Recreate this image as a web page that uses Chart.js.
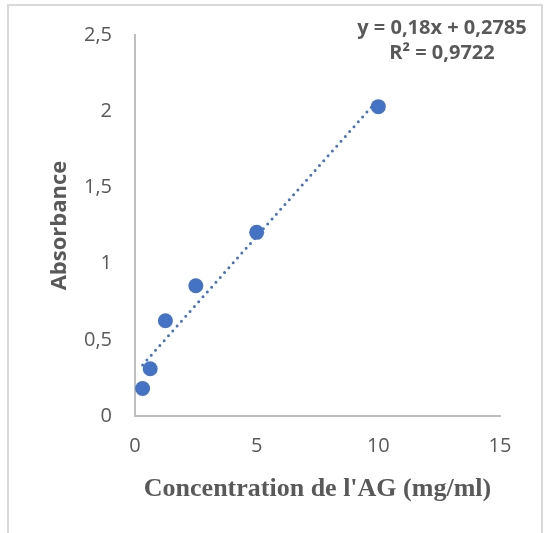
<!DOCTYPE html>
<html>
<head>
<meta charset="utf-8">
<script src="https://cdn.jsdelivr.net/npm/chart.js@4/dist/chart.umd.min.js"></script>
<style>
  body { margin: 0; background: #fff; }
  #wrap { position: relative; width: 548px; height: 533px; }
</style>
</head>
<body>
<div id="wrap"><canvas id="courbe" width="548" height="533"></canvas></div>
<script>
const concentrations = [0.3125, 0.625, 1.25, 2.5, 5, 10];
const absorbances = [0.18, 0.31, 0.625, 0.855, 1.205, 2.03];

// Courbe de tendance (extrémités)
const tendanceX = [0.3125, 10];
const tendanceY = [0.335, 2.0785];

const equation = ['y = 0,18x + 0,2785', 'R² = 0,9722'];

const gris = '#595959';
const bleu = '#4472c4';

// cadre + équation
const decor = {
    id: 'decor',
    beforeDraw(chart) {
        const ctx = chart.ctx;
        ctx.save();
        ctx.fillStyle = '#fff';
        ctx.fillRect(0, 0, chart.width, chart.height);
        ctx.strokeStyle = '#d9d9d9';
        ctx.lineWidth = 2;
        ctx.strokeRect(8, 5, 534, 540);
        ctx.restore();
    },
    afterDraw(chart) {
        const ctx = chart.ctx;
        ctx.save();
        ctx.fillStyle = gris;
        ctx.font = 'bold 20px "Open Sans"';
        ctx.textAlign = 'center';
        ctx.textBaseline = 'middle';
        ctx.fillText(equation[0], 442, 28);
        ctx.fillText(equation[1], 442, 53);
        ctx.restore();
    }
};

const ctx = document.getElementById('courbe').getContext('2d');
new Chart(ctx, {
    type: 'scatter',
    data: {
        datasets: [{
            label: 'Absorbance',
            data: concentrations.map((x, i) => ({ x: x, y: absorbances[i] })),
            backgroundColor: bleu,
            borderWidth: 0,
            pointRadius: 7.5,
            order: 1
        }, {
            type: 'line',
            label: 'Tendance',
            data: tendanceX.map((x, i) => ({ x: x, y: tendanceY[i] })),
            borderColor: bleu,
            borderWidth: 3,
            borderDash: [0, 6.5],
            borderCapStyle: 'round',
            pointRadius: 0,
            fill: false,
            order: 0
        }]
    },
    options: {
        responsive: false,
        animation: false,
        layout: { padding: { left: 0, right: 48, top: 35, bottom: 0 } },
        plugins: {
            legend: { display: false },
            tooltip: { enabled: false }
        },
        scales: {
            x: {
                type: 'linear',
                min: 0,
                max: 15,
                grid: { display: false, drawTicks: false },
                border: { display: true, color: '#bfbfbf', width: 2 },
                ticks: {
                    stepSize: 5,
                    padding: 18,
                    color: gris,
                    font: { family: 'Open Sans', size: 20 }
                },
                title: {
                    display: true,
                    text: "Concentration de l'AG (mg/ml)",
                    color: gris,
                    font: { family: 'Liberation Serif', size: 26, weight: 'bold' },
                    padding: { top: 0, bottom: 28 }
                },
                afterFit(scale) { scale.height = 117; }
            },
            y: {
                min: 0,
                max: 2.5,
                grid: { display: false, drawTicks: false },
                border: { display: true, color: '#bfbfbf', width: 2 },
                ticks: {
                    stepSize: 0.5,
                    padding: 23,
                    color: gris,
                    font: { family: 'Open Sans', size: 20 },
                    callback: v => v.toString().replace('.', ',')
                },
                title: {
                    display: true,
                    text: 'Absorbance',
                    color: gris,
                    font: { family: 'Open Sans', size: 22, weight: 'bold' },
                    padding: { top: 47, bottom: 0 }
                },
                afterFit(scale) { scale.width = 135; }
            }
        }
    },
    plugins: [decor]
});
</script>
</body>
</html>
